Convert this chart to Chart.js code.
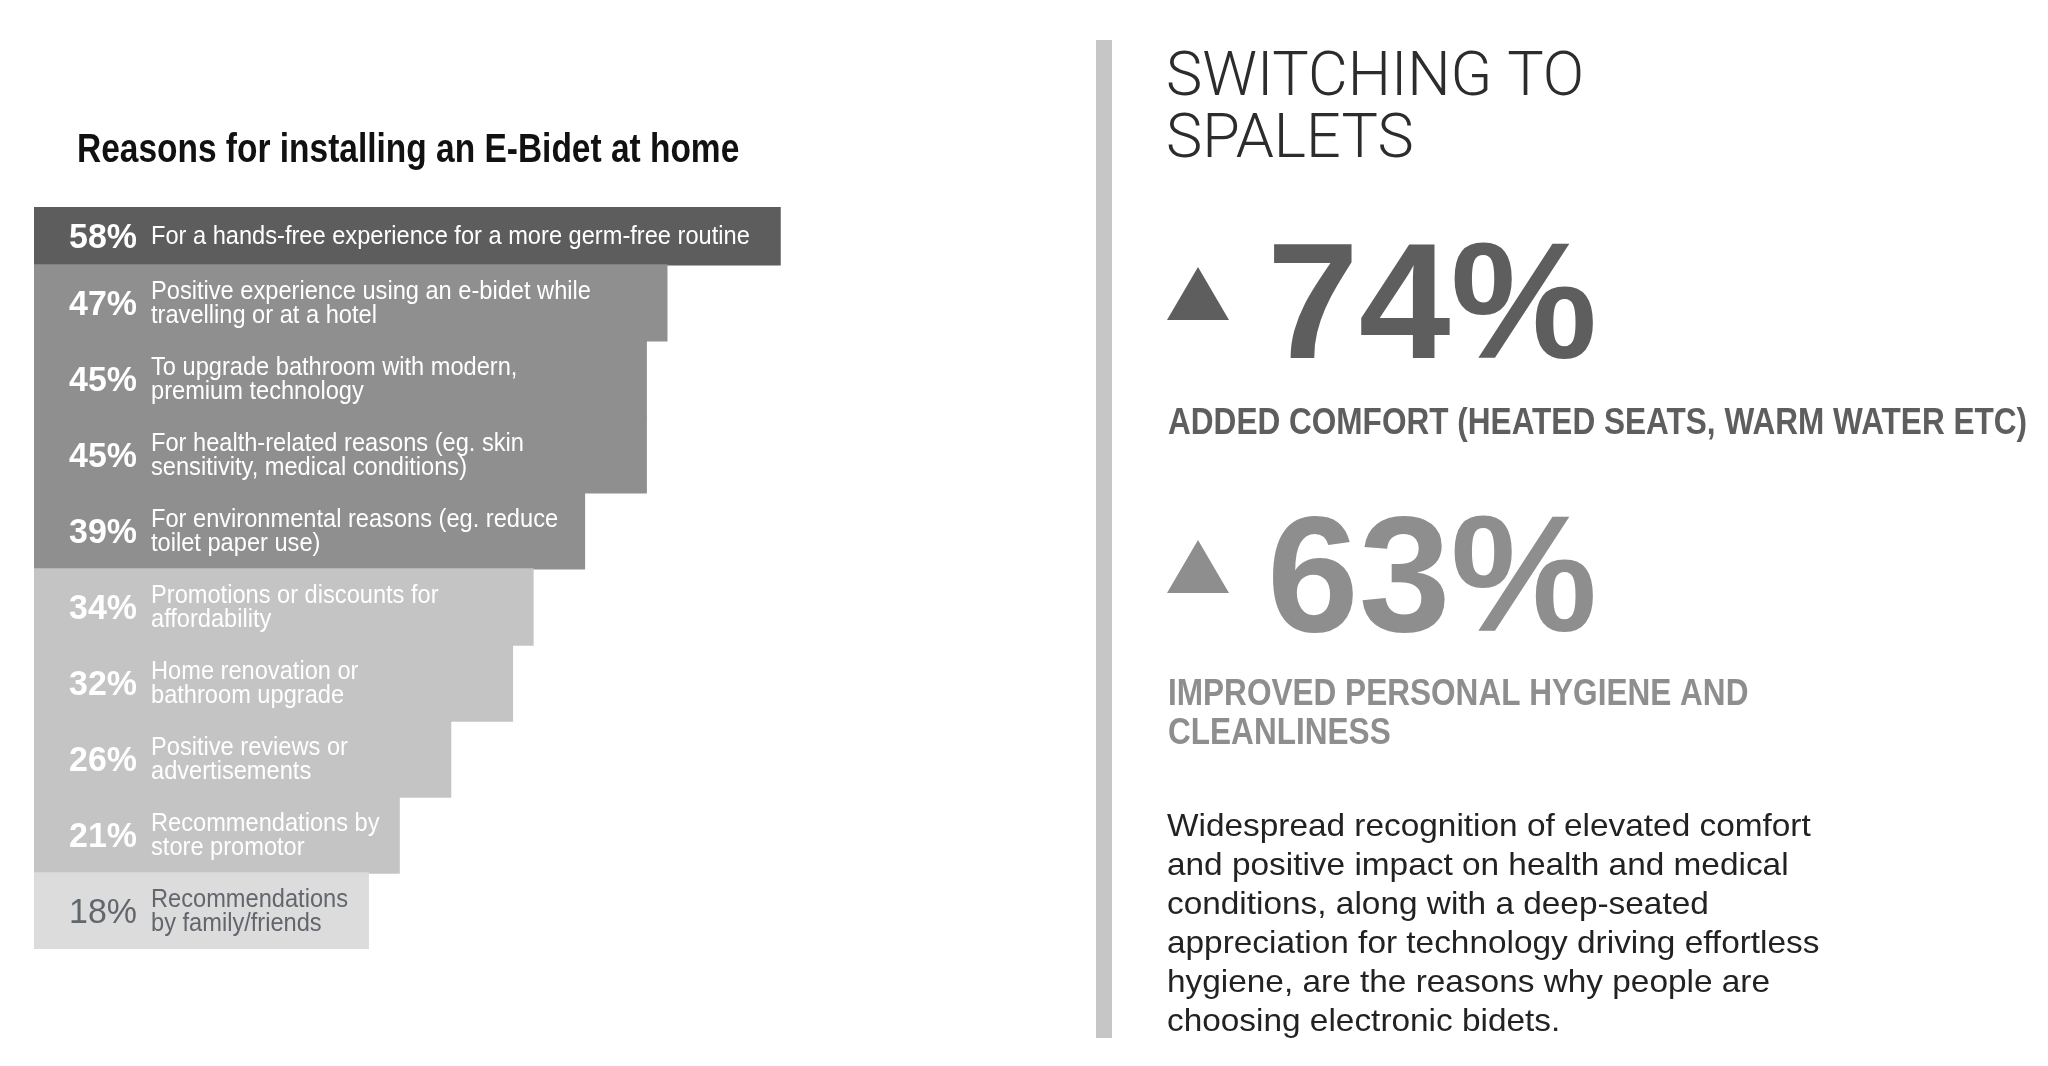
<!DOCTYPE html>
<html>
<head>
<meta charset="utf-8">
<script src="https://cdn.jsdelivr.net/npm/chart.js@4.4.0/dist/chart.umd.min.js"></script>
<style>
html,body{margin:0;padding:0;background:#ffffff;overflow:hidden}
canvas{display:block}
</style>
</head>
<body>
<canvas id="c" width="2048" height="1066"></canvas>
<script>
// ---------- data ----------
const chartTitle = 'Reasons for installing an E-Bidet at home';
const values = [58, 47, 45, 45, 39, 34, 32, 26, 21, 18];
const percentLabels = ['58%', '47%', '45%', '45%', '39%', '34%', '32%', '26%', '21%', '18%'];
const reasonLines = [
  ['For a hands-free experience for a more germ-free routine'],
  ['Positive experience using an e-bidet while', 'travelling or at a hotel'],
  ['To upgrade bathroom with modern,', 'premium technology'],
  ['For health-related reasons (eg. skin', 'sensitivity, medical conditions)'],
  ['For environmental reasons (eg. reduce', 'toilet paper use)'],
  ['Promotions or discounts for', 'affordability'],
  ['Home renovation or', 'bathroom upgrade'],
  ['Positive reviews or', 'advertisements'],
  ['Recommendations by', 'store promotor'],
  ['Recommendations', 'by family/friends']
];
const panelHeading = ['SWITCHING TO', 'SPALETS'];
const statValues = ['74%', '63%'];
const statCaptions = [
  ['ADDED COMFORT (HEATED SEATS, WARM WATER ETC)'],
  ['IMPROVED PERSONAL HYGIENE AND', 'CLEANLINESS']
];
const paragraphLines = [
  'Widespread recognition of elevated comfort',
  'and positive impact on health and medical',
  'conditions, along with a deep-seated',
  'appreciation for technology driving effortless',
  'hygiene, are the reasons why people are',
  'choosing electronic bidets.'
];

// ---------- styles / layout ----------
const DARK = '#5d5d5d', MID = '#8f8f8f', LIGHT = '#c4c4c4', PALE = '#dcdcdc';
const barColors = [DARK, MID, MID, MID, MID, LIGHT, LIGHT, LIGHT, LIGHT, PALE];
const statColors = ['#5e5e5e', '#8e8e8e'];
const SANS = '"Liberation Sans", Arial, Helvetica, sans-serif';
const PAD = { left: 34, top: 207, right: 1247, bottom: 117 };
const Y_MIN = -0.263, Y_MAX = 9.5;
const slotPx = (1066 - PAD.top - PAD.bottom) / (Y_MAX - Y_MIN);

function drawScaled(ctx, text, x, y, font, color, sx, align) {
  ctx.save();
  ctx.font = font;
  ctx.fillStyle = color;
  ctx.textAlign = align || 'left';
  ctx.textBaseline = 'alphabetic';
  ctx.translate(x, y);
  ctx.scale(sx, 1);
  ctx.fillText(text, 0, 0);
  ctx.restore();
}

const barLabelPlugin = {
  id: 'barLabels',
  afterDatasetsDraw(chart) {
    const ctx = chart.ctx;
    const area = chart.chartArea;
    const meta = chart.getDatasetMeta(0);
    meta.data.forEach((bar, i) => {
      const top = Math.max(bar.y - bar.height / 2, area.top);
      const bottom = Math.min(bar.y + bar.height / 2, area.bottom);
      const cy = (top + bottom) / 2;
      const last = i === values.length - 1;
      const color = last ? '#62666d' : '#ffffff';
      const pctFont = (last ? '400 ' : '700 ') + '35px ' + SANS;
      drawScaled(ctx, percentLabels[i], bar.base + 103, cy + 12, pctFont, color, 0.97, 'right');
      const lines = reasonLines[i];
      const lh = 24;
      const start = cy - (lines.length - 1) * lh / 2 + 8;
      lines.forEach((ln, k) => {
        drawScaled(ctx, ln, bar.base + 117, start + k * lh, '400 25px ' + SANS, color, 0.945, 'left');
      });
    });
  }
};

const panelPlugin = {
  id: 'panel',
  afterDraw(chart) {
    const ctx = chart.ctx;
    drawScaled(ctx, chartTitle, 77, 162, '700 40px ' + SANS, '#111111', 0.837, 'left');
    ctx.save();
    ctx.fillStyle = '#c6c6c6';
    ctx.fillRect(1096, 40, 16, 998);
    ctx.restore();
    panelHeading.forEach((t, k) => {
      drawScaled(ctx, t, 1166, 95 + k * 62, '300 62px Roboto, ' + SANS, '#2c2c2c', 0.985, 'left');
    });
    const statBase = [358, 631];
    const captionBase = [[434], [705, 744]];
    statValues.forEach((t, k) => {
      const by = statBase[k];
      ctx.save();
      ctx.fillStyle = statColors[k];
      ctx.beginPath();
      ctx.moveTo(1167, by - 38);
      ctx.lineTo(1229, by - 38);
      ctx.lineTo(1198, by - 91);
      ctx.closePath();
      ctx.fill();
      ctx.restore();
      drawScaled(ctx, t, 1267, by, '700 165px ' + SANS, statColors[k], 1.0, 'left');
      statCaptions[k].forEach((c, j) => {
        drawScaled(ctx, c, 1168, captionBase[k][j], '700 37px ' + SANS, statColors[k], 0.853, 'left');
      });
    });
    paragraphLines.forEach((t, k) => {
      drawScaled(ctx, t, 1167, 836 + k * 39, '400 32px ' + SANS, '#222222', 1.043, 'left');
    });
  }
};

new Chart(document.getElementById('c').getContext('2d'), {
  type: 'bar',
  data: {
    datasets: [{
      data: values.map((v, i) => ({ x: v, y: i })),
      backgroundColor: barColors,
      borderWidth: 0,
      barPercentage: 1,
      categoryPercentage: 1,
      barThickness: slotPx + 0.6,
      base: -14.5,
      clip: 0
    }]
  },
  options: {
    indexAxis: 'y',
    responsive: false,
    animation: false,
    devicePixelRatio: 1,
    datasets: { bar: { barPercentage: 1, categoryPercentage: 1 } },
    layout: { padding: PAD },
    plugins: { legend: { display: false }, tooltip: { enabled: false }, title: { display: false } },
    scales: {
      x: { type: 'linear', min: -14.5, max: 60, bounds: 'data', display: false, grid: { display: false } },
      y: { type: 'linear', reverse: true, min: Y_MIN, max: Y_MAX, bounds: 'data', offset: false, display: false,
           grid: { display: false }, ticks: { stepSize: 1, includeBounds: false } }
    }
  },
  plugins: [barLabelPlugin, panelPlugin]
});
</script>
</body>
</html>
